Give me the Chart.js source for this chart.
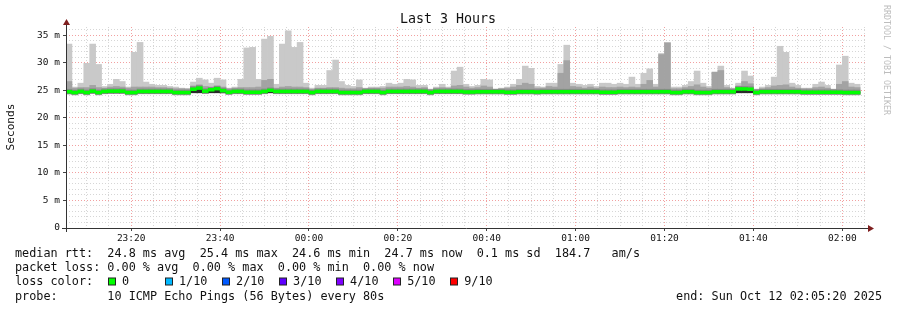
<!DOCTYPE html>
<html>
<head>
<meta charset="utf-8">
<script src="https://cdn.jsdelivr.net/npm/chart.js@4.4.1/dist/chart.umd.min.js"></script>
<style>
  html, body { margin: 0; padding: 0; background: #fff; }
  #wrap { width: 897px; height: 310px; }
</style>
</head>
<body>
<div id="wrap"><canvas id="c" width="897" height="310"></canvas></div>
<script>
'use strict';

// time is in minutes after 23:00; window 23:05:20 .. 02:05:20, one sample per 80 s
var startMin = 5 + 20 / 60;
var spanMin = 180;
var stepMin = 80 / 60;

var tickMinutes = [20, 40, 60, 80, 100, 120, 140, 160, 180];
var tickLabels = ['23:20', '23:40', '00:00', '00:20', '00:40', '01:00', '01:20', '01:40', '02:00'];

// smoke: top of the outer (light) band, top of the inner band, median rtt (ms)
var maxRtt = [
  33.4, 25.6, 26.3, 29.9, 33.4, 29.7, 25.7, 26.1, 27.0, 26.6,
  25.6, 31.9, 33.7, 26.5, 26.1, 25.9, 25.9, 25.7, 25.6, 25.4,
  25.2, 26.5, 27.2, 26.9, 26.3, 27.2, 26.9, 25.4, 25.6, 27.0,
  32.7, 32.8, 27.0, 34.3, 34.8, 26.1, 33.4, 35.8, 32.8, 33.7,
  26.3, 25.4, 25.9, 25.9, 28.6, 30.5, 26.6, 25.9, 25.7, 26.9,
  25.4, 25.6, 25.6, 25.7, 26.3, 26.1, 26.3, 27.0, 26.9, 25.9,
  25.9, 25.2, 25.6, 26.1, 25.6, 28.5, 29.2, 26.1, 25.7, 25.9,
  27.0, 26.9, 25.2, 25.4, 25.6, 26.1, 27.0, 29.4, 29.0, 25.7,
  25.6, 26.3, 26.3, 29.7, 33.2, 26.3, 26.1, 25.9, 26.1, 25.7,
  26.3, 26.3, 26.1, 26.3, 26.1, 27.4, 26.1, 28.1, 28.9, 26.1,
  31.7, 33.7, 25.6, 25.6, 25.9, 26.6, 28.5, 26.3, 25.7, 28.3,
  29.4, 25.9, 25.4, 26.3, 28.5, 27.6, 25.2, 25.6, 25.9, 27.4,
  33.0, 31.9, 26.3, 25.9, 25.4, 25.4, 26.1, 26.5, 25.9, 25.2,
  29.6, 31.2, 26.3, 26.1
];

var midRtt = [
  26.6, 25.4, 25.5, 25.5, 25.9, 25.5, 25.4, 25.6, 25.7, 25.6,
  25.4, 25.6, 25.6, 25.6, 25.6, 25.5, 25.5, 25.4, 25.3, 25.3,
  25.3, 25.8, 26.0, 25.7, 25.6, 25.8, 25.6, 25.3, 25.4, 25.5,
  25.5, 25.5, 25.6, 26.8, 27.0, 25.4, 25.6, 25.7, 25.6, 25.6,
  25.5, 25.2, 25.4, 25.4, 25.5, 25.5, 25.4, 25.3, 25.3, 25.5,
  25.3, 25.4, 25.4, 25.4, 25.6, 25.6, 25.6, 25.7, 25.6, 25.4,
  25.5, 25.2, 25.4, 25.5, 25.4, 25.8, 25.9, 25.6, 25.4, 25.5,
  25.8, 25.6, 25.2, 25.3, 25.4, 25.6, 25.9, 26.3, 26.1, 25.4,
  25.4, 25.7, 25.6, 28.1, 30.4, 25.7, 25.6, 25.4, 25.6, 25.4,
  25.6, 25.5, 25.5, 25.6, 25.5, 25.6, 25.5, 26.1, 26.8, 25.6,
  31.5, 33.6, 25.3, 25.3, 25.5, 25.7, 26.0, 25.6, 25.4, 28.3,
  28.6, 25.5, 25.3, 25.8, 26.6, 26.2, 25.2, 25.3, 25.5, 25.8,
  25.9, 26.0, 25.6, 25.4, 25.3, 25.3, 25.5, 25.6, 25.4, 25.2,
  26.1, 26.6, 25.6, 25.5
];

var medianRtt = [
  24.75, 24.6, 24.8, 24.6, 24.85, 24.6, 24.8, 24.85, 24.85, 24.85,
  24.6, 24.6, 24.8, 24.8, 24.8, 24.8, 24.8, 24.8, 24.6, 24.6,
  24.6, 25.2, 25.4, 24.85, 25.1, 25.3, 24.95, 24.65, 24.8, 24.8,
  24.65, 24.65, 24.65, 24.8, 25.0, 24.8, 24.8, 24.8, 24.8, 24.8,
  24.8, 24.6, 24.8, 24.8, 24.8, 24.8, 24.6, 24.6, 24.6, 24.6,
  24.8, 24.8, 24.8, 24.6, 24.8, 24.8, 24.8, 24.8, 24.8, 24.8,
  24.8, 24.6, 24.8, 24.8, 24.8, 24.8, 24.8, 24.7, 24.7, 24.75,
  24.75, 24.75, 24.75, 24.75, 24.65, 24.65, 24.75, 24.75, 24.75, 24.7,
  24.75, 24.75, 24.75, 24.75, 24.75, 24.75, 24.75, 24.75, 24.75, 24.75,
  24.65, 24.65, 24.65, 24.75, 24.75, 24.75, 24.75, 24.75, 24.75, 24.75,
  24.75, 24.75, 24.6, 24.6, 24.75, 24.75, 24.6, 24.6, 24.6, 24.75,
  24.75, 24.75, 24.75, 25.25, 25.25, 25.2, 24.6, 24.75, 24.75, 24.75,
  24.75, 24.75, 24.75, 24.75, 24.65, 24.65, 24.65, 24.65, 24.65, 24.65,
  24.65, 24.6, 24.6, 24.6
];

var statsLine = 'median rtt:  24.8 ms avg  25.4 ms max  24.6 ms min  24.7 ms now  0.1 ms sd  184.7   am/s';
var lossLine = 'packet loss: 0.00 % avg  0.00 % max  0.00 % min  0.00 % now';
var probeLine = 'probe:       10 ICMP Echo Pings (56 Bytes) every 80s';
var endLine = 'end: Sun Oct 12 02:05:20 2025';
var lossLabels = ['0', '1/10', '2/10', '3/10', '4/10', '5/10', '9/10'];
var lossColors = ['#00ff00', '#00b8ff', '#0059ff', '#5e00ff', '#7e00ff', '#dd00ff', '#ff0000'];

function xAt(i) { return startMin + (i + 0.5) * stepMin; }

function band(lo, hi) {
  return medianRtt.map(function (m, i) { return { x: xAt(i), y: [lo(m, i), hi(m, i)] }; });
}

var lightBand = band(function (m) { return m - 0.45; }, function (m, i) { return maxRtt[i]; });
var midBand = band(function (m) { return m - 0.4; }, function (m, i) { return midRtt[i]; });
var darkBand = band(function (m) { return m - 0.35; }, function (m) { return m + 0.45; });
var blackBand = band(function (m) { return 24.55; }, function (m) { return m > 24.95 ? m - 0.2 : 24.55; });
var medianBand = band(function (m) { return m - 0.26; }, function (m) { return m + 0.26; });

function barSet(data, color, order) {
  return {
    type: 'bar', data: data, backgroundColor: color, borderWidth: 0,
    barPercentage: 1, categoryPercentage: 1, grouped: false, order: order
  };
}

var mono = '"DejaVu Sans Mono", monospace';

var rrdDecor = {
  id: 'rrdDecor',
  afterDraw: function (chart) {
    var ctx = chart.ctx;
    var a = chart.chartArea;
    ctx.save();

    // axes with arrows
    ctx.strokeStyle = '#333';
    ctx.lineWidth = 1;
    ctx.beginPath();
    ctx.moveTo(a.left - 4, Math.round(a.bottom) + 0.5);
    ctx.lineTo(a.right + 5, Math.round(a.bottom) + 0.5);
    ctx.moveTo(Math.round(a.left) + 0.5, a.bottom + 4);
    ctx.lineTo(Math.round(a.left) + 0.5, a.top - 4);
    ctx.stroke();
    ctx.fillStyle = '#7f1f1f';
    ctx.beginPath();
    ctx.moveTo(a.right + 2, a.bottom - 3);
    ctx.lineTo(a.right + 8, a.bottom + 0.5);
    ctx.lineTo(a.right + 2, a.bottom + 4);
    ctx.closePath();
    ctx.fill();
    ctx.beginPath();
    ctx.moveTo(a.left - 3, a.top - 2);
    ctx.lineTo(a.left + 0.5, a.top - 8);
    ctx.lineTo(a.left + 4, a.top - 2);
    ctx.closePath();
    ctx.fill();

    // title and axis label
    ctx.fillStyle = '#111';
    ctx.textBaseline = 'middle';
    ctx.textAlign = 'center';
    ctx.font = '13.3px ' + mono;
    ctx.fillText('Last 3 Hours', 448, 20);
    ctx.save();
    ctx.translate(11, 127);
    ctx.rotate(-Math.PI / 2);
    ctx.font = '11.2px ' + mono;
    ctx.fillText('Seconds', 0, 0);
    ctx.restore();

    ctx.save();
    ctx.translate(886, 5);
    ctx.rotate(Math.PI / 2);
    ctx.textAlign = 'left';
    ctx.fillStyle = '#bdbdbd';
    ctx.font = '8.3px ' + mono;
    ctx.fillText('RRDTOOL / TOBI OETIKER', 0, 0);
    ctx.restore();

    // legend block
    var charW = 7.13;
    var x0 = 15;
    ctx.textAlign = 'left';
    ctx.fillStyle = '#111';
    ctx.font = '11.8px ' + mono;
    ctx.fillText(statsLine, x0, 254);
    ctx.fillText(lossLine, x0, 268);
    ctx.fillText('loss color:', x0, 282);
    ctx.fillText(probeLine, x0, 296.5);
    for (var k = 0; k < lossLabels.length; k++) {
      var bx = Math.round(x0 + (13 + 8 * k) * charW) + 0.5;
      ctx.fillStyle = lossColors[k];
      ctx.fillRect(bx, 278, 7, 7);
      ctx.strokeStyle = '#222';
      ctx.strokeRect(bx, 278, 7, 7);
      ctx.fillStyle = '#111';
      ctx.fillText(lossLabels[k], x0 + (15 + 8 * k) * charW, 282);
    }
    ctx.textAlign = 'right';
    ctx.fillText(endLine, 882, 296.5);
    ctx.restore();
  }
};

function tickVal(c) { return c && c.tick ? c.tick.value : NaN; }
function isMajorX(c) { return tickMinutes.indexOf(Math.round(tickVal(c))) >= 0; }
function isMajorY(c) { return tickVal(c) % 5 === 0; }

new Chart(document.getElementById('c').getContext('2d'), {
  data: {
    datasets: [
      barSet(lightBand, '#c9c9c9', 6),
      barSet(midBand, '#a3a3a3', 5),
      barSet(darkBand, '#898989', 4),
      barSet(blackBand, '#2a2a2a', 3),
      barSet(medianBand, '#00ff00', 2)
    ]
  },
  plugins: [rrdDecor],
  options: {
    responsive: false,
    animation: false,
    devicePixelRatio: 1,
    layout: { padding: { left: 0, right: 31, top: 27, bottom: 0 } },
    plugins: { legend: { display: false }, tooltip: { enabled: false }, title: { display: false } },
    scales: {
      x: {
        type: 'linear',
        offset: false,
        min: startMin,
        max: startMin + spanMin,
        z: 1,
        afterBuildTicks: function (axis) {
          var t = [];
          for (var m = 10; m <= 185; m += 5) t.push({ value: m });
          axis.ticks = t;
        },
        afterFit: function (axis) { axis.height = 82; },
        border: { display: false, dash: [1, 2] },
        grid: {
          offset: false,
          color: function (c) { return isMajorX(c) ? '#f2a0a0' : '#d6d6d6'; },
          tickColor: function (c) { return isMajorX(c) ? '#444' : 'rgba(0,0,0,0)'; },
          tickLength: 3
        },
        ticks: {
          autoSkip: false,
          maxRotation: 0,
          padding: 2,
          color: '#111',
          font: { family: 'DejaVu Sans Mono', size: 9.5 },
          callback: function (v) {
            var i = tickMinutes.indexOf(Math.round(v));
            return i >= 0 ? tickLabels[i] : '';
          }
        }
      },
      y: {
        min: 0,
        max: 36.5,
        z: 1,
        afterBuildTicks: function (axis) {
          var t = [];
          for (var v = 0; v <= 36; v++) t.push({ value: v });
          axis.ticks = t;
        },
        afterFit: function (axis) { axis.width = 66; },
        border: { display: false, dash: [1, 2] },
        grid: {
          color: function (c) { return isMajorY(c) ? '#f2a0a0' : '#d6d6d6'; },
          tickColor: function (c) { return isMajorY(c) ? '#444' : 'rgba(0,0,0,0)'; },
          tickLength: 3
        },
        ticks: {
          autoSkip: false,
          padding: 3,
          color: '#111',
          font: { family: 'DejaVu Sans Mono', size: 9.5 },
          callback: function (v) {
            if (v % 5 !== 0) return '';
            return v === 0 ? '0' : v + ' m';
          }
        }
      }
    }
  }
});
</script>
</body>
</html>
